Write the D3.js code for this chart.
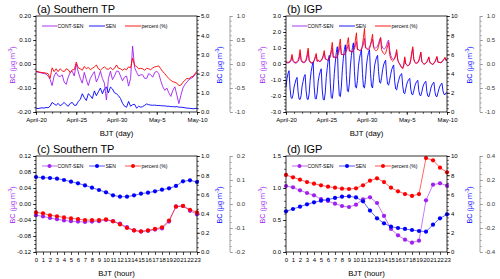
<!DOCTYPE html>
<html>
<head>
<meta charset="utf-8">
<script src="https://cdn.jsdelivr.net/npm/d3@7"></script>
<style>
  body { margin: 0; background: #fff; }
  svg { display: block; }
</style>
</head>
<body>
<script>
// ---- data ----
const dayTickLabels = ["April-20", "April-25", "April-30", "May-5", "May-10"];
const dayTicks = [0, 5, 10, 15, 20];
const hours = [0, 1, 2, 3, 4, 5, 6, 7, 8, 9, 10, 11, 12, 13, 14, 15, 16, 17, 18, 19, 20, 21, 22, 23];
const legendLabels = ["CONT-SEN", "SEN", "percent (%)"];

// (a) Southern TP, every 6 h from April-20 00 BJT
const aStep = 0.25;
const aContSen = [-0.032, -0.034, -0.036, -0.038, -0.04, -0.042, -0.05, -0.064,
  -0.09, -0.05, -0.035, -0.05, -0.052, -0.045, -0.075, -0.085,
  -0.055, -0.035, -0.03, -0.05, 0.0, -0.033, -0.06, -0.08,
  -0.035, -0.065, -0.09, -0.06, -0.045, -0.032, -0.075, -0.057,
  -0.03, -0.06, -0.08, -0.15, -0.06, -0.03, -0.065, -0.05,
  -0.03, -0.03, -0.05, -0.07, -0.055, -0.05, -0.092, -0.06,
  0.075, -0.015, -0.035, -0.05, -0.045, -0.045, -0.06, -0.06,
  -0.04, -0.045, -0.055, -0.035, -0.03, -0.04, -0.07, -0.095,
  -0.11, -0.1, -0.12, -0.135, -0.11, -0.095, -0.13, -0.165,
  -0.13, -0.1, -0.085, -0.075, -0.065, -0.06, -0.055, -0.045, -0.035];
const aSen = [0.2, 0.18, 0.2, 0.22, 0.2, 0.24, 0.22, 0.3,
  0.5, 0.42, 0.35, 0.45, 0.32, 0.4, 0.5, 0.38,
  0.3, 0.45, 0.5, 0.35, 0.35, 0.55, 0.65, 0.95,
  0.75, 0.6, 0.95, 0.85, 0.7, 1.1, 0.85, 1.05,
  1.25, 0.95, 1.2, 1.3, 1.0, 1.3, 1.2, 1.0,
  0.95, 0.85, 0.7, 0.45, 0.3, 0.25, 0.55, 0.3,
  0.38, 0.4, 0.2, 0.3, 0.25, 0.28, 0.35, 0.42,
  0.38, 0.36, 0.35, 0.36, 0.34, 0.34, 0.33, 0.32,
  0.32, 0.3, 0.3, 0.28, 0.28, 0.27, 0.28, 0.25,
  0.25, 0.24, 0.22, 0.2, 0.2, 0.18, 0.17, 0.18, 0.2];
const aPercent = [-0.15, -0.16, -0.17, -0.18, -0.18, -0.19, -0.2, -0.3,
  -0.08, -0.16, -0.1, -0.16, -0.1, -0.14, -0.16, -0.1,
  -0.12, -0.18, -0.12, -0.12, 0.04, -0.08, -0.1, -0.13,
  -0.05, -0.1, -0.07, -0.12, -0.09, -0.06, -0.02, -0.1,
  -0.13, -0.09, -0.06, -0.1, -0.11, -0.07, -0.12, -0.09,
  -0.02, -0.09, -0.1, -0.13, -0.1, -0.12, -0.06, -0.08,
  0.12, -0.03, -0.05, -0.1, -0.09, -0.1, -0.13, -0.09,
  -0.1, -0.12, -0.08, -0.06, -0.05, -0.04, -0.1, -0.16,
  -0.2, -0.26, -0.3, -0.34, -0.37, -0.38, -0.4, -0.45,
  -0.44, -0.38, -0.34, -0.3, -0.31, -0.27, -0.26, -0.2, -0.15];

// (b) IGP, every 3 h from April-20 00 BJT
const bStep = 0.125;
const bContSen = [
  0.1, 0.08, 0.06, 0.08, 0.12, 0.2, 0.45, 0.15,
  0.1, 0.06, 0.05, 0.1, 0.15, 0.3, 0.7, 0.2,
  0.12, 0.08, 0.08, 0.1, 0.2, 0.4, 0.8, 0.2,
  0.1, 0.06, 0.04, 0.08, 0.2, 0.35, 0.55, 0.15,
  0.2, 0.15, 0.15, 0.2, 0.3, 0.45, 0.7, 0.3,
  0.3, 0.25, 0.25, 0.3, 0.45, 0.7, 1.0, 0.4,
  0.45, 0.4, 0.4, 0.45, 0.65, 0.9, 1.15, 0.6,
  0.6, 0.55, 0.6, 0.65, 0.8, 1.0, 1.2, 0.8,
  0.8, 0.75, 0.78, 0.85, 0.95, 1.15, 1.4, 0.9,
  0.9, 0.85, 0.88, 0.92, 1.05, 1.25, 1.6, 1.0,
  1.0, 0.95, 0.98, 1.05, 1.2, 1.4, 1.55, 1.1,
  1.05, 1.0, 1.05, 1.1, 1.3, 1.5, 1.65, 1.2,
  1.0, 0.95, 0.95, 1.0, 1.2, 1.4, 1.5, 0.9,
  0.55, 0.4, 0.3, 0.3, 0.35, 0.5, 0.75, 0.3,
  0.1, 0.0, -0.1, -0.2, -0.25, -0.1, 0.35, 0.0,
  -0.05, -0.1, -0.08, 0.0, 0.25, 0.6, 0.95, 0.3,
  0.1, 0.05, 0.05, 0.08, 0.2, 0.4, 0.7, 0.15,
  0.05, 0.0, 0.0, 0.05, 0.12, 0.25, 0.4, 0.08,
  0.05, 0.0, -0.03, 0.05, 0.12, 0.25, 0.42, 0.1,
  0.1, 0.08, 0.08, 0.12, 0.2, 0.28, 0.38, 0.2,
  0.25];
const bSen = [
  2.6, 3.5, 4.0, 4.3, 2.5, 1.5, 1.4, 1.8,
  2.6, 3.0, 3.4, 3.6, 2.1, 1.35, 1.3, 1.7,
  2.7, 3.2, 3.7, 3.9, 2.2, 1.35, 1.3, 1.9,
  3.3, 4.2, 4.8, 5.2, 2.6, 1.4, 1.35, 2.0,
  3.2, 3.8, 4.2, 4.5, 2.3, 1.3, 1.25, 2.0,
  3.6, 4.6, 5.4, 5.9, 3.0, 1.5, 1.4, 2.3,
  4.0, 5.2, 6.2, 6.8, 3.4, 1.7, 1.6, 2.6,
  4.4, 5.6, 6.5, 7.0, 3.8, 2.2, 2.1, 3.0,
  4.8, 5.9, 6.7, 7.2, 4.2, 2.6, 2.5, 3.3,
  4.8, 5.6, 6.1, 6.5, 4.0, 2.6, 2.5, 3.4,
  4.9, 5.7, 6.2, 6.5, 4.0, 2.7, 2.5, 3.6,
  4.8, 5.3, 5.7, 5.9, 4.2, 3.1, 3.0, 3.6,
  4.4, 4.9, 5.2, 5.4, 3.8, 2.9, 2.8, 3.3,
  3.9, 4.4, 4.7, 4.9, 3.2, 2.4, 2.3, 2.9,
  3.3, 3.7, 3.9, 4.0, 2.7, 2.0, 1.9, 2.4,
  2.9, 3.2, 3.4, 3.5, 2.4, 1.85, 1.8, 2.2,
  2.7, 3.0, 3.2, 3.3, 2.2, 1.75, 1.7, 2.1,
  2.6, 2.9, 3.1, 3.2, 2.1, 1.65, 1.6, 2.0,
  2.5, 2.8, 3.0, 3.1, 2.1, 1.65, 1.6, 2.0,
  2.4, 2.7, 2.9, 3.0, 2.2, 1.85, 1.8, 2.0,
  2.0];
const bPercent = [
  0.05, 0.04, 0.03, 0.04, 0.06, 0.1, 0.2, 0.08,
  0.05, 0.03, 0.03, 0.05, 0.08, 0.15, 0.3, 0.1,
  0.06, 0.04, 0.04, 0.05, 0.1, 0.2, 0.33, 0.1,
  0.05, 0.03, 0.02, 0.04, 0.08, 0.15, 0.22, 0.06,
  0.08, 0.06, 0.06, 0.08, 0.12, 0.18, 0.28, 0.12,
  0.1, 0.08, 0.08, 0.1, 0.18, 0.3, 0.45, 0.15,
  0.15, 0.12, 0.13, 0.16, 0.25, 0.4, 0.52, 0.2,
  0.2, 0.18, 0.2, 0.22, 0.3, 0.45, 0.55, 0.28,
  0.28, 0.25, 0.25, 0.28, 0.35, 0.5, 0.65, 0.3,
  0.3, 0.28, 0.28, 0.3, 0.4, 0.55, 0.74, 0.35,
  0.32, 0.3, 0.3, 0.32, 0.4, 0.5, 0.62, 0.35,
  0.3, 0.28, 0.28, 0.3, 0.38, 0.45, 0.55, 0.3,
  0.25, 0.22, 0.2, 0.22, 0.3, 0.38, 0.45, 0.2,
  0.12, 0.08, 0.06, 0.08, 0.12, 0.2, 0.3, 0.08,
  0.03, 0.0, -0.05, -0.08, -0.1, -0.02, 0.15, 0.0,
  -0.02, -0.04, -0.03, 0.0, 0.1, 0.25, 0.36, 0.1,
  0.04, 0.02, 0.02, 0.03, 0.08, 0.15, 0.25, 0.05,
  0.02, 0.0, 0.0, 0.02, 0.05, 0.1, 0.15, 0.03,
  0.02, 0.0, -0.01, 0.02, 0.05, 0.1, 0.16, 0.04,
  0.04, 0.03, 0.03, 0.05, 0.08, 0.1, 0.14, 0.08,
  0.1];

// (c) Southern TP, diurnal mean by BJT hour
const cContSen = [-0.028, -0.031, -0.035, -0.038, -0.041, -0.043, -0.044, -0.045, -0.044, -0.043, -0.040, -0.043,
  -0.049, -0.058, -0.066, -0.069, -0.067, -0.064, -0.061, -0.044, -0.006, -0.005, -0.017, -0.026];
const cSen = [0.781, 0.774, 0.771, 0.764, 0.750, 0.733, 0.715, 0.694, 0.670, 0.646, 0.622, 0.590,
  0.576, 0.576, 0.590, 0.608, 0.618, 0.632, 0.649, 0.663, 0.688, 0.736, 0.747, 0.729];
const cPercent = [-0.035, -0.039, -0.047, -0.051, -0.056, -0.060, -0.063, -0.067, -0.067, -0.067, -0.064, -0.072,
  -0.085, -0.100, -0.110, -0.114, -0.110, -0.104, -0.097, -0.069, -0.011, -0.008, -0.024, -0.035];

// (d) IGP, diurnal mean by BJT hour
const dContSen = [1.031, 1.010, 0.964, 0.922, 0.885, 0.828, 0.797, 0.755, 0.719, 0.703, 0.740, 0.823,
  0.854, 0.766, 0.563, 0.359, 0.260, 0.193, 0.146, 0.177, 0.807, 1.052, 1.073, 1.036];
const dSen = [4.24, 4.48, 4.72, 4.97, 5.17, 5.35, 5.45, 5.63, 5.76, 5.80, 5.69, 5.28,
  4.31, 3.51, 2.99, 2.64, 2.50, 2.40, 2.29, 2.19, 2.12, 2.85, 3.51, 3.92];
const dPercent = [0.242, 0.222, 0.203, 0.183, 0.169, 0.156, 0.144, 0.136, 0.128, 0.125, 0.131, 0.156,
  0.194, 0.214, 0.183, 0.136, 0.106, 0.083, 0.067, 0.083, 0.383, 0.364, 0.303, 0.264];

// ---- drawing ----
const W = 500, H = 279;
const purple = "#a020f0", blue = "#0000ff", red = "#ff0000";
const thirdGray = "#8c8c8c";

const svg = d3.select("body").append("svg")
  .attr("width", W).attr("height", H)
  .style("font-family", "'Liberation Sans', Arial, Helvetica, sans-serif");

function fixed(n) { return d => d.toFixed(n); }

function minorValues(domain, step) {
  const out = [];
  const n = Math.round((domain[1] - domain[0]) / step);
  for (let i = 0; i <= n; i++) out.push(domain[0] + i * step);
  return out;
}

function styleAxis(sel, size, color) {
  sel.selectAll("text").attr("font-size", size).attr("fill", color || "#000");
  sel.selectAll("line").attr("stroke", color || "#000").attr("stroke-width", 0.7);
  sel.select(".domain").remove();
}

function drawPanel(p) {
  const g = svg.append("g").attr("transform", `translate(${p.ox},${p.oy})`);
  const x0 = 36, x1 = 197, y0 = 16, y1 = 112, x3 = 230;

  const x = d3.scaleLinear().domain(p.xDomain).range([x0, x1]);
  const yL = d3.scaleLinear().domain(p.left.domain).range([y1, y0]);
  const yR = d3.scaleLinear().domain(p.right.domain).range([y1, y0]);
  const y3 = d3.scaleLinear().domain(p.third.domain).range([y1, y0]);

  // title
  g.append("text").attr("x", 37).attr("y", 12.5)
    .attr("font-size", 11).text(p.title);

  // minor ticks
  const minorL = g.append("g").attr("transform", `translate(${x0},0)`)
    .call(d3.axisLeft(yL).tickValues(minorValues(p.left.domain, p.left.minor)).tickFormat("").tickSize(1.8).tickSizeOuter(0));
  styleAxis(minorL, 6);
  const minorR = g.append("g").attr("transform", `translate(${x1},0)`)
    .call(d3.axisRight(yR).tickValues(minorValues(p.right.domain, p.right.minor)).tickFormat("").tickSize(1.8).tickSizeOuter(0));
  styleAxis(minorR, 6);

  // major y axes
  const axL = g.append("g").attr("transform", `translate(${x0},0)`)
    .call(d3.axisLeft(yL).tickValues(p.left.ticks).tickFormat(fixed(p.left.dec)).tickSize(3).tickPadding(2).tickSizeOuter(0));
  styleAxis(axL, 6);
  const axR = g.append("g").attr("transform", `translate(${x1},0)`)
    .call(d3.axisRight(yR).tickValues(p.right.ticks).tickFormat(fixed(p.right.dec)).tickSize(3).tickPadding(1).tickSizeOuter(0));
  styleAxis(axR, 6);

  // third axis
  g.append("line").attr("x1", x3).attr("x2", x3).attr("y1", y0).attr("y2", y1)
    .attr("stroke", thirdGray).attr("stroke-width", 0.8);
  const minor3 = g.append("g").attr("transform", `translate(${x3},0)`)
    .call(d3.axisRight(y3).tickValues(minorValues(p.third.domain, p.third.minor)).tickFormat("").tickSize(1.8).tickSizeOuter(0));
  styleAxis(minor3, 6, thirdGray);
  const ax3 = g.append("g").attr("transform", `translate(${x3},0)`)
    .call(d3.axisRight(y3).tickValues(p.third.ticks).tickFormat(fixed(p.third.dec)).tickSize(3).tickSizeOuter(0));
  styleAxis(ax3, 6, thirdGray);
  ax3.selectAll("text").attr("text-anchor", "end").attr("x", 15).attr("fill", "#333");

  // x axis
  let axB;
  if (p.kind === "day") {
    const minorB = g.append("g").attr("transform", `translate(0,${y1})`)
      .call(d3.axisBottom(x).tickValues(minorValues(p.xDomain, 1)).tickFormat("").tickSize(1.8).tickSizeOuter(0));
    styleAxis(minorB, 6);
    axB = g.append("g").attr("transform", `translate(0,${y1})`)
      .call(d3.axisBottom(x).tickValues(dayTicks).tickFormat((d, i) => dayTickLabels[i]).tickSize(3).tickPadding(2.5).tickSizeOuter(0));
  } else {
    axB = g.append("g").attr("transform", `translate(0,${y1})`)
      .call(d3.axisBottom(x).tickValues(hours).tickFormat(d => d).tickSize(3).tickPadding(2.5).tickSizeOuter(0));
  }
  styleAxis(axB, 6);

  g.append("text").attr("x", (x0 + x1) / 2).attr("y", 135.5)
    .attr("text-anchor", "middle").attr("font-size", 7.8).text(p.xTitle);

  // axis titles
  function bcTitle(tx, ty, color) {
    const t = g.append("text").attr("transform", `translate(${tx},${ty}) rotate(-90)`)
      .attr("text-anchor", "middle").attr("font-size", 7.2).attr("fill", color);
    t.append("tspan").text("BC (\u03bcg m");
    t.append("tspan").attr("font-size", 4.8).attr("dy", -2.8).text("-3");
    t.append("tspan").attr("dy", 2.8).text(")");
  }
  bcTitle(15, 65, purple);
  bcTitle(222, 65, blue);

  // series
  const series = [
    { vals: p.contSen, y: yL, color: purple },
    { vals: p.sen, y: yR, color: blue },
    { vals: p.percent, y: y3, color: red }
  ];
  series.forEach(s => {
    const line = d3.line().x((d, i) => x(p.xOf(i))).y(d => s.y(d));
    g.append("path").datum(s.vals).attr("d", line)
      .attr("fill", "none").attr("stroke", s.color)
      .attr("stroke-width", p.kind === "day" ? 0.9 : 0.8)
      .attr("stroke-opacity", p.kind === "day" ? 1 : 0.75)
      .attr("stroke-linejoin", "round");
    if (p.kind === "hour") {
      g.selectAll(null).data(s.vals).enter().append("circle")
        .attr("cx", (d, i) => x(p.xOf(i))).attr("cy", d => s.y(d))
        .attr("r", 2.1).attr("fill", s.color);
    }
  });

  // frame
  g.append("rect").attr("x", x0).attr("y", y0).attr("width", x1 - x0).attr("height", y1 - y0)
    .attr("fill", "none").attr("stroke", "#000").attr("stroke-width", 0.8);

  // legend
  const legY = 26;
  const legX = [[42, 57], [89, 105], [125, 141]];
  [purple, blue, red].forEach((c, i) => {
    g.append("line").attr("x1", legX[i][0]).attr("x2", legX[i][1]).attr("y1", legY).attr("y2", legY)
      .attr("stroke", c).attr("stroke-width", 0.9).attr("stroke-opacity", p.kind === "day" ? 1 : 0.75);
    if (p.kind === "hour") {
      g.append("circle").attr("cx", (legX[i][0] + legX[i][1]) / 2).attr("cy", legY).attr("r", 2).attr("fill", c);
    }
    g.append("text").attr("x", legX[i][1] + 0.5).attr("y", legY + 1.8)
      .attr("font-size", 5).text(legendLabels[i]);
  });
}

const dayAxes = (left, right) => ({ left, right });

drawPanel({
  title: "(a) Southern TP", ox: 0, oy: 0, kind: "day", xTitle: "BJT (day)",
  xDomain: [0, 20], xOf: i => i * aStep,
  left: { domain: [-0.2, 0.2], ticks: [-0.2, -0.1, 0, 0.1, 0.2], dec: 2, minor: 0.02 },
  right: { domain: [0, 5], ticks: [0, 1, 2, 3, 4, 5], dec: 1, minor: 0.2 },
  third: { domain: [-1, 1], ticks: [-1, -0.5, 0, 0.5, 1], dec: 1, minor: 0.1 },
  contSen: aContSen, sen: aSen, percent: aPercent
});
drawPanel({
  title: "(b) IGP", ox: 250, oy: 0, kind: "day", xTitle: "BJT (day)",
  xDomain: [0, 20], xOf: i => i * bStep,
  left: { domain: [-3, 3], ticks: [-3, -2, -1, 0, 1, 2, 3], dec: 1, minor: 0.2 },
  right: { domain: [0, 10], ticks: [0, 2, 4, 6, 8, 10], dec: 0, minor: 0.4 },
  third: { domain: [-1, 1], ticks: [-1, -0.5, 0, 0.5, 1], dec: 1, minor: 0.1 },
  contSen: bContSen, sen: bSen, percent: bPercent
});
drawPanel({
  title: "(c) Southern TP", ox: 0, oy: 140, kind: "hour", xTitle: "BJT (hour)",
  xDomain: [0, 23], xOf: i => hours[i],
  left: { domain: [-0.12, 0.12], ticks: [-0.12, -0.08, -0.04, 0, 0.04, 0.08, 0.12], dec: 2, minor: 0.01 },
  right: { domain: [0, 1], ticks: [0, 0.2, 0.4, 0.6, 0.8, 1], dec: 1, minor: 0.05 },
  third: { domain: [-0.2, 0.2], ticks: [-0.2, -0.1, 0, 0.1, 0.2], dec: 1, minor: 0.025 },
  contSen: cContSen, sen: cSen, percent: cPercent
});
drawPanel({
  title: "(d) IGP", ox: 250, oy: 140, kind: "hour", xTitle: "BJT (hour)",
  xDomain: [0, 23], xOf: i => hours[i],
  left: { domain: [0, 1.5], ticks: [0, 0.5, 1, 1.5], dec: 1, minor: 0.1 },
  right: { domain: [0, 10], ticks: [0, 2, 4, 6, 8, 10], dec: 0, minor: 0.4 },
  third: { domain: [-0.4, 0.4], ticks: [-0.4, -0.2, 0, 0.2, 0.4], dec: 1, minor: 0.05 },
  contSen: dContSen, sen: dSen, percent: dPercent
});
</script>
</body>
</html>
